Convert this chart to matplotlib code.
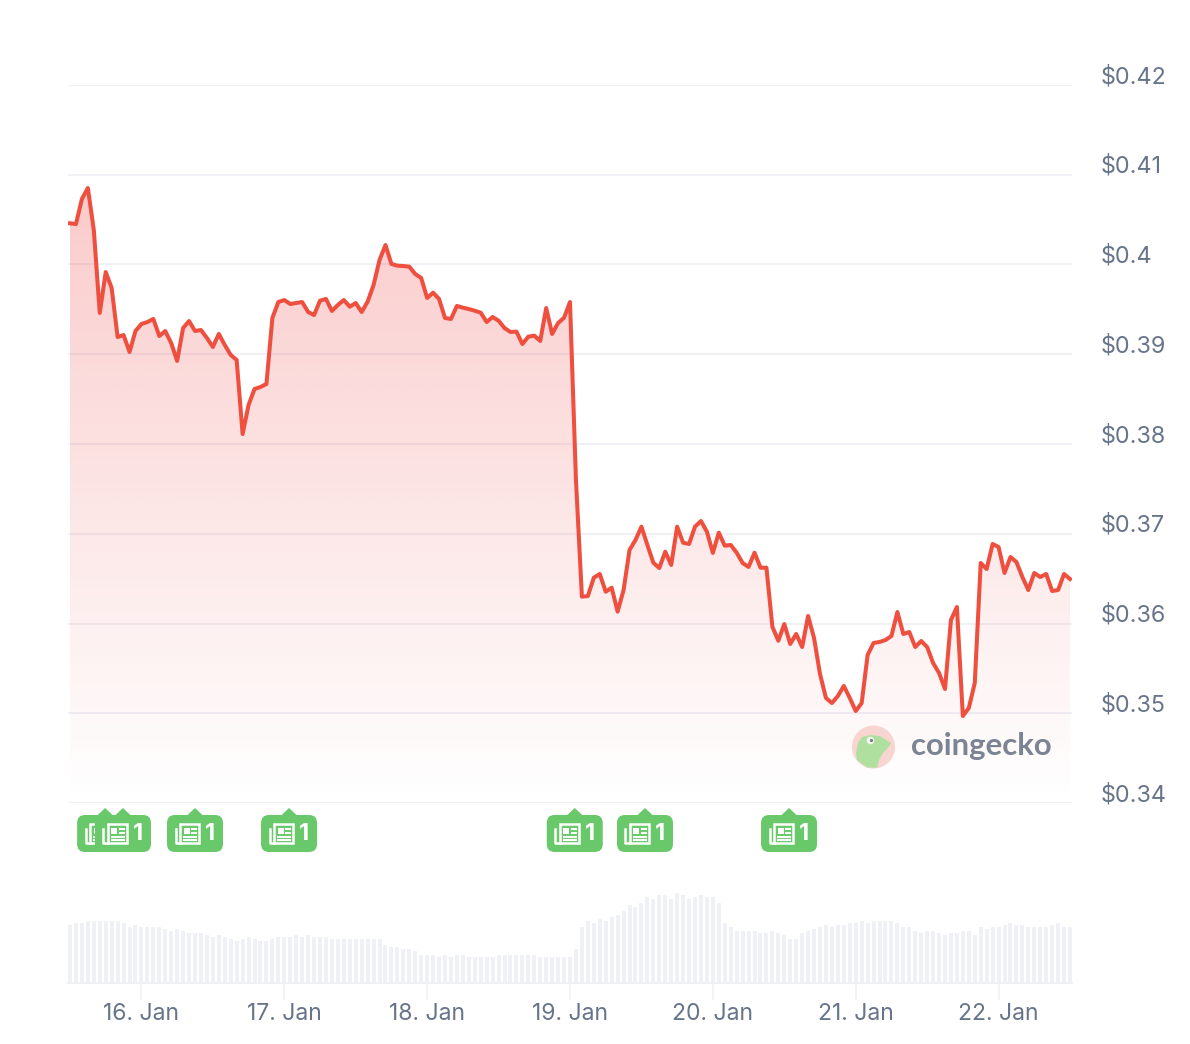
import numpy as np
import matplotlib
matplotlib.use('Agg')
import matplotlib.pyplot as plt
from matplotlib.patches import Circle, FancyBboxPatch, Polygon, Rectangle

# hourly price from 15 Jan 12:00 to 22 Jan 12:00
price = [0.40459, 0.40451, 0.40730, 0.40852, 0.40384, 0.39460, 0.39916, 0.39738, 0.39192, 0.39214,
         0.39025, 0.39259, 0.39337, 0.39359, 0.39393, 0.39203, 0.39259, 0.39125, 0.38925, 0.39292,
         0.39370, 0.39259, 0.39270, 0.39181, 0.39081, 0.39226, 0.39103, 0.38992, 0.38936, 0.38111,
         0.38435, 0.38613, 0.38635, 0.38669, 0.39404, 0.39582, 0.39604, 0.39560, 0.39571, 0.39582,
         0.39471, 0.39437, 0.39597, 0.39616, 0.39482, 0.39549, 0.39604, 0.39530, 0.39571, 0.39471,
         0.39586, 0.39772, 0.40050, 0.40217, 0.40006, 0.39987, 0.39983, 0.39976, 0.39894, 0.39850,
         0.39627, 0.39686, 0.39616, 0.39404, 0.39393, 0.39538, 0.39519, 0.39504, 0.39485, 0.39463,
         0.39359, 0.39415, 0.39374, 0.39292, 0.39248, 0.39252, 0.39114, 0.39196, 0.39207, 0.39148,
         0.39515, 0.39226, 0.39348, 0.39407, 0.39582, 0.37599, 0.36299, 0.36306, 0.36510, 0.36552,
         0.36354, 0.36399, 0.36132, 0.36373, 0.36819, 0.36930, 0.37079, 0.36875, 0.36677, 0.36618,
         0.36800, 0.36652, 0.37079, 0.36900, 0.36886, 0.37079, 0.37142, 0.37023, 0.36786, 0.37012,
         0.36867, 0.36875, 0.36789, 0.36674, 0.36630, 0.36789, 0.36622, 0.36622, 0.35964, 0.35808,
         0.35994, 0.35772, 0.35883, 0.35738, 0.36084, 0.35838, 0.35437, 0.35170, 0.35114, 0.35192,
         0.35304, 0.35170, 0.35025, 0.35114, 0.35649, 0.35783, 0.35794, 0.35816, 0.35861, 0.36128,
         0.35883, 0.35905, 0.35738, 0.35805, 0.35738, 0.35560, 0.35449, 0.35270, 0.36039, 0.36184,
         0.34969, 0.35059, 0.35337, 0.36674, 0.36607, 0.36886, 0.36852, 0.36563, 0.36741, 0.36685,
         0.36518, 0.36373, 0.36563, 0.36518, 0.36552, 0.36362, 0.36373, 0.36552, 0.36496]

# volume, no scale shown in the chart so these are relative units
volume = [58, 60, 60, 62, 62, 62, 62, 62, 62, 60,
          56, 58, 56, 56, 56, 56, 54, 52, 54, 52,
          50, 50, 50, 48, 46, 48, 46, 44, 42, 44,
          46, 44, 42, 42, 44, 46, 46, 46, 48, 46,
          48, 46, 46, 46, 44, 44, 44, 44, 44, 44,
          44, 44, 44, 38, 36, 36, 34, 34, 32, 28,
          28, 28, 26, 28, 26, 28, 28, 26, 26, 26,
          26, 26, 28, 28, 28, 28, 28, 28, 28, 26,
          26, 26, 26, 26, 26, 34, 56, 62, 60, 64,
          62, 66, 68, 72, 78, 76, 80, 86, 84, 88,
          88, 84, 90, 88, 84, 86, 88, 86, 86, 80,
          60, 56, 52, 52, 52, 52, 50, 50, 52, 50,
          48, 44, 44, 50, 52, 54, 56, 58, 56, 58,
          58, 60, 60, 62, 60, 62, 62, 62, 62, 60,
          56, 56, 52, 50, 52, 52, 50, 48, 50, 50,
          52, 52, 48, 56, 54, 56, 56, 58, 60, 58,
          58, 56, 56, 56, 56, 58, 60, 56, 56]

y_ticks = [0.42, 0.41, 0.40, 0.39, 0.38, 0.37, 0.36, 0.35, 0.34]
y_labels = ['$0.42', '$0.41', '$0.4', '$0.39', '$0.38', '$0.37', '$0.36', '$0.35', '$0.34']
day_hours = [12, 36, 60, 84, 108, 132, 156]
day_labels = ['16. Jan', '17. Jan', '18. Jan', '19. Jan', '20. Jan', '21. Jan', '22. Jan']
# hours of the news badges and their counts
news_hours = [5.9, 8.9, 21, 36.8, 84.8, 96.6, 120.8]
news_counts = [1, 1, 1, 1, 1, 1, 1]

hours = np.arange(len(price))

W, H = 1190, 1044
LINE = '#ef4f3f'
GRID = '#f0f1f6'
TEXT = '#677489'
GREEN = '#69c96a'
plt.rcParams['font.family'] = ['Inter', 'DejaVu Sans']
plt.rcParams['text.parse_math'] = False

fig = plt.figure(figsize=(W / 100, H / 100), dpi=100)

# =========================
# Price panel
# =========================
ax = fig.add_axes([68 / W, (H - 803) / H, 1004 / W, 718 / H])
x_range = (-0.336, 168.336)

ax.hlines(y_ticks, x_range[0], x_range[1], color=GRID, linewidth=1.4, zorder=1)

# red gradient below the line, clipped to the area under it
grad = np.zeros((256, 1, 4))
grad[:, 0, :3] = matplotlib.colors.to_rgb('#ef4444')
grad[:, 0, 3] = np.linspace(0.28, 0, 256)
top = max(price)
im = ax.imshow(grad, extent=(0, 168, 0.34, top), origin='upper', aspect='auto', zorder=2)
area = ax.fill_between(hours, price, 0.34, color='none')
im.set_clip_path(area.get_paths()[0], transform=ax.transData)

ax.plot(hours, price, color=LINE, linewidth=2.9, solid_joinstyle='round', zorder=3)

ax.set_xlim(x_range)
ax.set_ylim(0.34, 0.42)
ax.axis('off')

for v, lab in zip(y_ticks, y_labels):
    ax.annotate(lab, xy=(1, v), xycoords=ax.get_yaxis_transform(), xytext=(20.5, 5.8),
                textcoords='offset points', color=TEXT, fontsize=16.8, va='center', ha='left')

# =========================
# Volume panel
# =========================
ax_vol = fig.add_axes([68 / W, (H - 983) / H, 1004 / W, 100 / H])
ax_vol.bar(hours, volume, width=0.67, color=GRID)
ax_vol.set_xlim(x_range)
ax_vol.set_ylim(0, 100)
ax_vol.set_yticks([])
ax_vol.set_xticks(day_hours)
ax_vol.set_xticklabels(day_labels)
ax_vol.tick_params(axis='x', length=12.5, width=1.1, color=GRID, labelcolor=TEXT, labelsize=16.5, pad=1.8)
for s in ['top', 'left', 'right']:
    ax_vol.spines[s].set_visible(False)
ax_vol.spines['bottom'].set_color(GRID)
ax_vol.spines['bottom'].set_linewidth(1.4)

# =========================
# Overlay in pixels: news badges and logo
# =========================
ov = fig.add_axes([0, 0, 1, 1], facecolor='none')
ov.set_xlim(0, W)
ov.set_ylim(H, 0)
ov.axis('off')

z = 5
for h, n in zip(news_hours, news_counts):
    c = ax.transData.transform((h, 0.34))[0]
    ov.add_patch(FancyBboxPatch((c - 28 + 7, 815 + 7), 42, 23, boxstyle='round,pad=7,rounding_size=8',
                                fc=GREEN, ec='none', zorder=z))
    ov.add_patch(Polygon([(c - 8, 815.5), (c, 808), (c + 8, 815.5)], fc=GREEN, ec='none', zorder=z))
    # newspaper icon
    ov.add_patch(Rectangle((c - 15, 824), 19, 18.5, fc='none', ec='white', lw=1.8, zorder=z + 1))
    ov.plot([c - 19.5, c - 19.5, c - 15], [829, 842.5, 842.5], color='white', lw=1.8, zorder=z + 1)
    ov.add_patch(Rectangle((c - 11.5, 827.5), 6, 6, fc='white', ec='none', zorder=z + 1))
    ov.plot([c - 3, c + 1], [828.5, 828.5], color='white', lw=1.5, zorder=z + 1)
    ov.plot([c - 3, c + 1], [832.5, 832.5], color='white', lw=1.5, zorder=z + 1)
    ov.plot([c - 11, c + 1], [836.5, 836.5], color='white', lw=1.5, zorder=z + 1)
    ov.plot([c - 11, c + 1], [840, 840], color='white', lw=1.5, zorder=z + 1)
    ov.text(c + 15, 834, str(n), color='white', fontsize=17, fontweight='bold', family='Inter',
            ha='center', va='center', zorder=z + 1)
    z += 2

# coingecko mark
ov.add_patch(Circle((873.5, 747), 21.5, fc='#f9d5d1', ec='none', zorder=4))
ov.add_patch(Polygon([(858, 743), (862, 737), (870, 735), (880, 736), (891, 743), (888, 748),
                      (883, 753), (879, 760), (877.5, 767.5), (867, 767.5), (857, 760), (856, 753)],
                     fc='#b0e0a0', ec='none', zorder=4))
ov.add_patch(Circle((870.5, 740.5), 3.8, fc='#f3f3f3', ec='none', zorder=4))
ov.add_patch(Circle((871.5, 740.5), 1.6, fc='#6f7f80', ec='none', zorder=4))
ov.text(910.5, 746, 'coingecko', color='#7b8494', fontsize=22.4, fontweight='bold', family='Lato',
        ha='left', va='center', zorder=4)

plt.savefig('out.png', dpi=100)
